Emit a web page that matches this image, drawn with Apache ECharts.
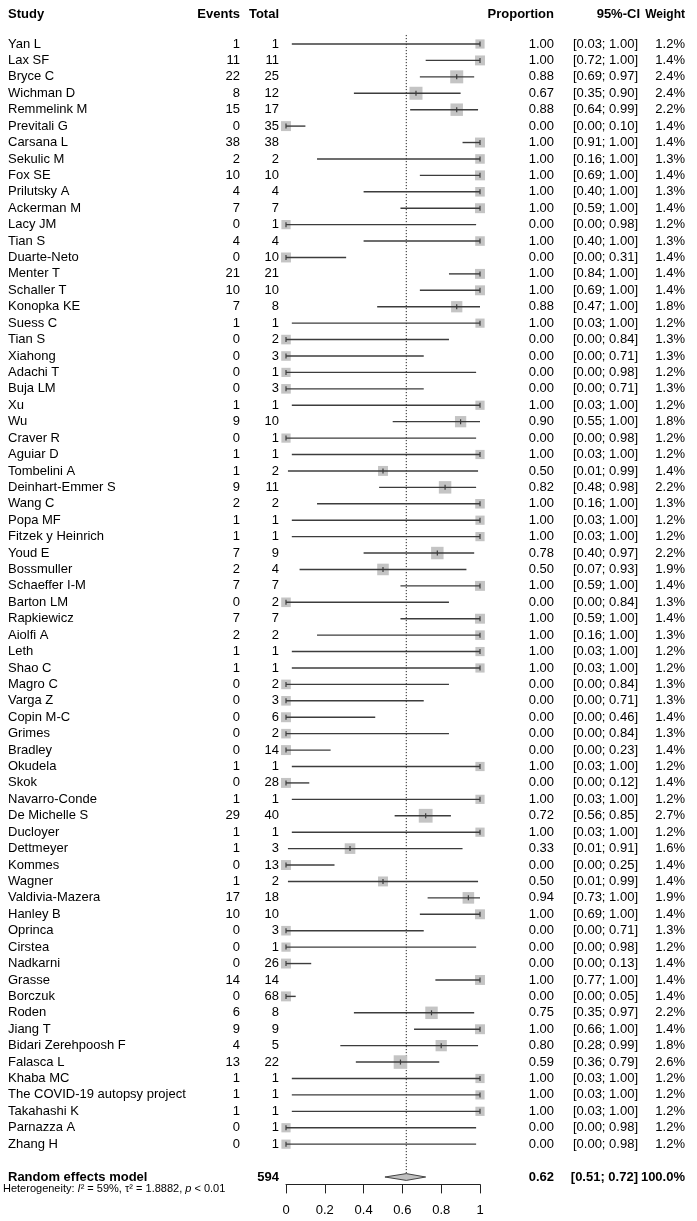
<!DOCTYPE html>
<html><head><meta charset="utf-8">
<script src="https://cdn.jsdelivr.net/npm/echarts@6/dist/echarts.min.js"></script>
<style>html,body{margin:0;padding:0;background:#fff}#c{width:697px;height:1221px}</style>
</head><body><div id="c"></div>
<script>
const studies = ["Yan L","Lax SF","Bryce C","Wichman D","Remmelink M","Previtali G","Carsana L","Sekulic M","Fox SE","Prilutsky A","Ackerman M","Lacy JM","Tian S","Duarte-Neto","Menter T","Schaller T","Konopka KE","Suess C","Tian S","Xiahong","Adachi T","Buja LM","Xu","Wu","Craver R","Aguiar D","Tombelini A","Deinhart-Emmer S","Wang C","Popa MF","Fitzek y Heinrich","Youd E","Bossmuller","Schaeffer I-M","Barton LM","Rapkiewicz","Aiolfi A","Leth","Shao C","Magro C","Varga Z","Copin M-C","Grimes","Bradley","Okudela","Skok","Navarro-Conde","De Michelle S","Ducloyer","Dettmeyer","Kommes","Wagner","Valdivia-Mazera","Hanley B","Oprinca","Cirstea","Nadkarni","Grasse","Borczuk","Roden","Jiang T","Bidari Zerehpoosh F","Falasca L","Khaba MC","The COVID-19 autopsy project","Takahashi K","Parnazza A","Zhang H"];
const events = [1,11,22,8,15,0,38,2,10,4,7,0,4,0,21,10,7,1,0,0,0,0,1,9,0,1,1,9,2,1,1,7,2,7,0,7,2,1,1,0,0,0,0,0,1,0,1,29,1,1,0,1,17,10,0,0,0,14,0,6,9,4,13,1,1,1,0,0];
const totals = [1,11,25,12,17,35,38,2,10,4,7,1,4,10,21,10,8,1,2,3,1,3,1,10,1,1,2,11,2,1,1,9,4,7,2,7,2,1,1,2,3,6,2,14,1,28,1,40,1,3,13,2,18,10,3,1,26,14,68,8,9,5,22,1,1,1,1,1];
const proportion = [1.00,1.00,0.88,0.67,0.88,0.00,1.00,1.00,1.00,1.00,1.00,0.00,1.00,0.00,1.00,1.00,0.88,1.00,0.00,0.00,0.00,0.00,1.00,0.90,0.00,1.00,0.50,0.82,1.00,1.00,1.00,0.78,0.50,1.00,0.00,1.00,1.00,1.00,1.00,0.00,0.00,0.00,0.00,0.00,1.00,0.00,1.00,0.72,1.00,0.33,0.00,0.50,0.94,1.00,0.00,0.00,0.00,1.00,0.00,0.75,1.00,0.80,0.59,1.00,1.00,1.00,0.00,0.00];
const ciLower = [0.03,0.72,0.69,0.35,0.64,0.00,0.91,0.16,0.69,0.40,0.59,0.00,0.40,0.00,0.84,0.69,0.47,0.03,0.00,0.00,0.00,0.00,0.03,0.55,0.00,0.03,0.01,0.48,0.16,0.03,0.03,0.40,0.07,0.59,0.00,0.59,0.16,0.03,0.03,0.00,0.00,0.00,0.00,0.00,0.03,0.00,0.03,0.56,0.03,0.01,0.00,0.01,0.73,0.69,0.00,0.00,0.00,0.77,0.00,0.35,0.66,0.28,0.36,0.03,0.03,0.03,0.00,0.00];
const ciUpper = [1.00,1.00,0.97,0.90,0.99,0.10,1.00,1.00,1.00,1.00,1.00,0.98,1.00,0.31,1.00,1.00,1.00,1.00,0.84,0.71,0.98,0.71,1.00,1.00,0.98,1.00,0.99,0.98,1.00,1.00,1.00,0.97,0.93,1.00,0.84,1.00,1.00,1.00,1.00,0.84,0.71,0.46,0.84,0.23,1.00,0.12,1.00,0.85,1.00,0.91,0.25,0.99,1.00,1.00,0.71,0.98,0.13,1.00,0.05,0.97,1.00,0.99,0.79,1.00,1.00,1.00,0.98,0.98];
const weights = [1.2,1.4,2.4,2.4,2.2,1.4,1.4,1.3,1.4,1.3,1.4,1.2,1.3,1.4,1.4,1.4,1.8,1.2,1.3,1.3,1.2,1.3,1.2,1.8,1.2,1.2,1.4,2.2,1.3,1.2,1.2,2.2,1.9,1.4,1.3,1.4,1.3,1.2,1.2,1.3,1.3,1.4,1.3,1.4,1.2,1.4,1.2,2.7,1.2,1.6,1.4,1.4,1.9,1.4,1.3,1.2,1.4,1.4,1.4,2.2,1.4,1.8,2.6,1.2,1.2,1.2,1.2,1.2];
const pooledEstimate = [0.62];
const pooledLower = [0.51];
const pooledUpper = [0.72];
const pooledTotal = [594];
const pooledWeight = [100.0];
const headerLabels = ["Study","Events","Total","Proportion","95%-CI","Weight"];
const heterogeneity = {I2: "59%", tau2: "1.8882", p: "< 0.01"};
const xTickInterval = 0.2;

const FONT = '"Liberation Sans", Arial, sans-serif';
const N = studies.length;
const ROW_HEADER = -1.8, ROW_RE = N + 1, ROW_HET = N + 1.68;
const COL = {name: 8, events: 240, total: 279, prop: 554, ci: 638, ciHead: 640, weight: 685};
const LINE = '#3c3c3c', SQUARE = '#c4c4c4';

function txt(x, y, s, align, bold, size) {
  return {type: 'text', style: {x: x, y: y, text: s, align: align, verticalAlign: 'middle',
    font: (bold ? 'bold ' : '') + (size || 13) + 'px ' + FONT, fill: '#000'}, silent: true};
}
const f2 = v => v.toFixed(2);

const studyData = studies.map((s, i) => [proportion[i], i, ciLower[i], ciUpper[i], weights[i]]);

const chart = echarts.init(document.getElementById('c'), null, {renderer: 'canvas'});
chart.setOption({
  animation: false,
  backgroundColor: '#fff',
  grid: {left: 286, right: 217, top: 11.16, bottom: 36.6, containLabel: false, outerBoundsMode: 'none'},
  xAxis: {type: 'value', min: 0, max: 1, interval: xTickInterval, position: 'bottom',
    axisLine: {show: true, onZero: false, lineStyle: {color: '#222', width: 1}},
    axisTick: {show: true, length: 9, lineStyle: {color: '#222', width: 1}},
    axisLabel: {color: '#000', fontSize: 13, fontFamily: FONT, margin: 20},
    splitLine: {show: false}},
  yAxis: {type: 'value', inverse: true, min: -2, max: 69.45, show: false, splitLine: {show: false}},
  series: [
    {
      type: 'custom', z: 1, clip: false,
      data: [[pooledEstimate[0], ROW_RE, pooledLower[0], pooledUpper[0]]],
      encode: {x: 0, y: 1},
      renderItem: function (params, api) {
        const est = api.value(0), row = api.value(1), lo = api.value(2), hi = api.value(3);
        const c = api.coord([est, row]);
        const top = api.coord([est, -0.55]);
        const xl = api.coord([lo, row])[0], xh = api.coord([hi, row])[0];
        const h = 3.4;
        const hy = api.coord([0, ROW_HEADER])[1];
        return {type: 'group', children: [
          {type: 'line', shape: {x1: c[0], y1: top[1], x2: c[0], y2: c[1] - h},
            style: {stroke: '#222', lineWidth: 1, lineDash: [1.2, 1.8]}},
          {type: 'polygon', shape: {points: [[xl, c[1]], [c[0], c[1] - h], [xh, c[1]], [c[0], c[1] + h]]},
            style: {fill: '#c0c0c0', stroke: '#444', lineWidth: 1}},
          txt(COL.name, c[1], 'Random effects model', 'left', true),
          txt(COL.total, c[1], String(pooledTotal[0]), 'right', true),
          txt(COL.prop, c[1], f2(est), 'right', true),
          txt(COL.ci, c[1], '[' + f2(lo) + '; ' + f2(hi) + ']', 'right', true),
          txt(COL.weight, c[1], pooledWeight[0].toFixed(1) + '%', 'right', true),
          {type: 'text', silent: true, style: {x: COL.name - 5, y: api.coord([0, ROW_HET])[1] + 1,
            verticalAlign: 'middle', align: 'left',
            text: 'Heterogeneity: {it|I}{n|² = ' + heterogeneity.I2 + ', τ² = ' + heterogeneity.tau2 + ', }{it|p}{n| ' + heterogeneity.p + '}',
            font: '11px ' + FONT, fill: '#000',
            rich: {it: {fontStyle: 'italic', fontSize: 11, fontFamily: FONT, fill: '#000'},
                   n: {fontSize: 11, fontFamily: FONT, fill: '#000'}}}},
          txt(COL.name, hy, headerLabels[0], 'left', true),
          txt(COL.events, hy, headerLabels[1], 'right', true),
          txt(COL.total, hy, headerLabels[2], 'right', true),
          txt(COL.prop, hy, headerLabels[3], 'right', true),
          txt(COL.ciHead, hy, headerLabels[4], 'right', true),
          txt(COL.weight, hy, headerLabels[5], 'right', true, 12)
        ]};
      }
    },
    {
      type: 'custom', z: 2, clip: false,
      data: studyData,
      encode: {x: 0, y: 1},
      renderItem: function (params, api) {
        const i = params.dataIndex;
        const p = api.value(0), row = api.value(1), lo = api.value(2), hi = api.value(3), w = api.value(4);
        const c = api.coord([p, row]);
        const xl = api.coord([lo, row])[0], xh = api.coord([hi, row])[0];
        const s = 8.4 * Math.sqrt(w);
        const y = c[1];
        return {type: 'group', children: [
          {type: 'rect', shape: {x: c[0] - s / 2, y: y - s / 2, width: s, height: s}, style: {fill: SQUARE}},
          {type: 'line', shape: {x1: xl, y1: y, x2: xh, y2: y}, style: {stroke: LINE, lineWidth: 1.4}},
          {type: 'line', shape: {x1: c[0], y1: y - 2.5, x2: c[0], y2: y + 2.5}, style: {stroke: LINE, lineWidth: 1.2}},
          txt(COL.name, y, studies[i], 'left'),
          txt(COL.events, y, String(events[i]), 'right'),
          txt(COL.total, y, String(totals[i]), 'right'),
          txt(COL.prop, y, f2(p), 'right'),
          txt(COL.ci, y, '[' + f2(lo) + '; ' + f2(hi) + ']', 'right'),
          txt(COL.weight, y, w.toFixed(1) + '%', 'right')
        ]};
      }
    }
  ]
});
</script></body></html>
